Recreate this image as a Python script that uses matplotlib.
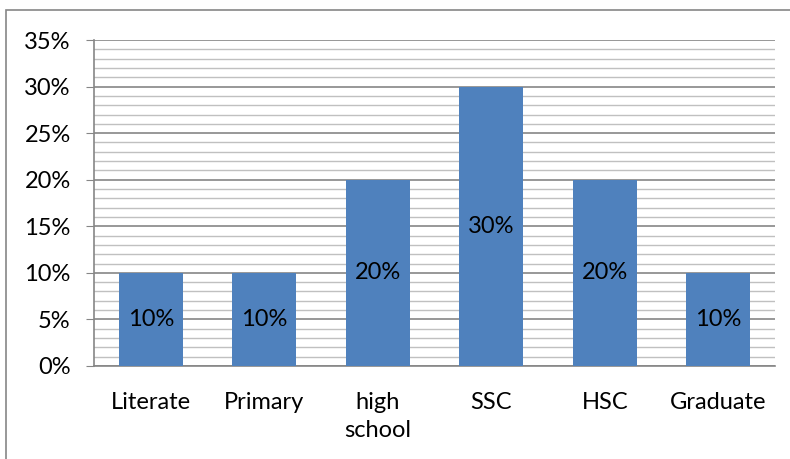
import numpy as np
import matplotlib.pyplot as plt
from matplotlib.patches import Rectangle
from matplotlib.ticker import MultipleLocator, PercentFormatter

categories = ['Literate', 'Primary', 'high\nschool', 'SSC', 'HSC', 'Graduate']
values = [10, 10, 20, 30, 20, 10]
bar_labels = ['10%', '10%', '20%', '30%', '20%', '10%']

plt.rcParams['font.family'] = ['Lato', 'DejaVu Sans']

fig = plt.figure(figsize=(7.9, 4.59), dpi=100)
ax = fig.add_axes([94/790, 1 - 366/459, (775 - 94)/790, (366 - 40)/459])

# outer chart border (cut off at right and bottom like the screenshot)
fig.patches.append(Rectangle((6/790, -0.1), 1.0, 1 - 10/459 + 0.1,
                             transform=fig.transFigure, fill=False,
                             edgecolor='#868686', linewidth=1.2))

x = np.arange(len(categories))
bars = ax.bar(x, values, width=0.565, color='#4F81BD', zorder=3)
for b, lab in zip(bars, bar_labels):
    ax.text(b.get_x() + b.get_width()/2, b.get_height()/2, lab,
            ha='center', va='center', fontsize=17, color='black', zorder=4)

ax.set_xlim(-0.5, len(categories) - 0.5)
ax.set_ylim(0, 35)
ax.yaxis.set_major_locator(MultipleLocator(5))
ax.yaxis.set_minor_locator(MultipleLocator(1))
ax.yaxis.set_major_formatter(PercentFormatter(decimals=0))
ax.grid(which='major', axis='y', color='#868686', linewidth=1.2, zorder=1)
ax.grid(which='minor', axis='y', color='#C0C0C0', linewidth=1.0, zorder=1)

ax.set_xticks(x)
ax.set_xticklabels(categories, fontsize=17, linespacing=1.4)
ax.tick_params(axis='x', length=0, pad=19)
ax.tick_params(axis='y', which='major', length=5.8, color='#868686',
               labelsize=17, pad=11)
ax.tick_params(axis='y', which='minor', length=0)

for s in ['top', 'right']:
    ax.spines[s].set_visible(False)
ax.spines['left'].set_color('#868686')
ax.spines['bottom'].set_color('#868686')
ax.spines['left'].set_linewidth(1.2)
ax.spines['bottom'].set_linewidth(1.2)

fig.savefig('out.png', dpi=100)
